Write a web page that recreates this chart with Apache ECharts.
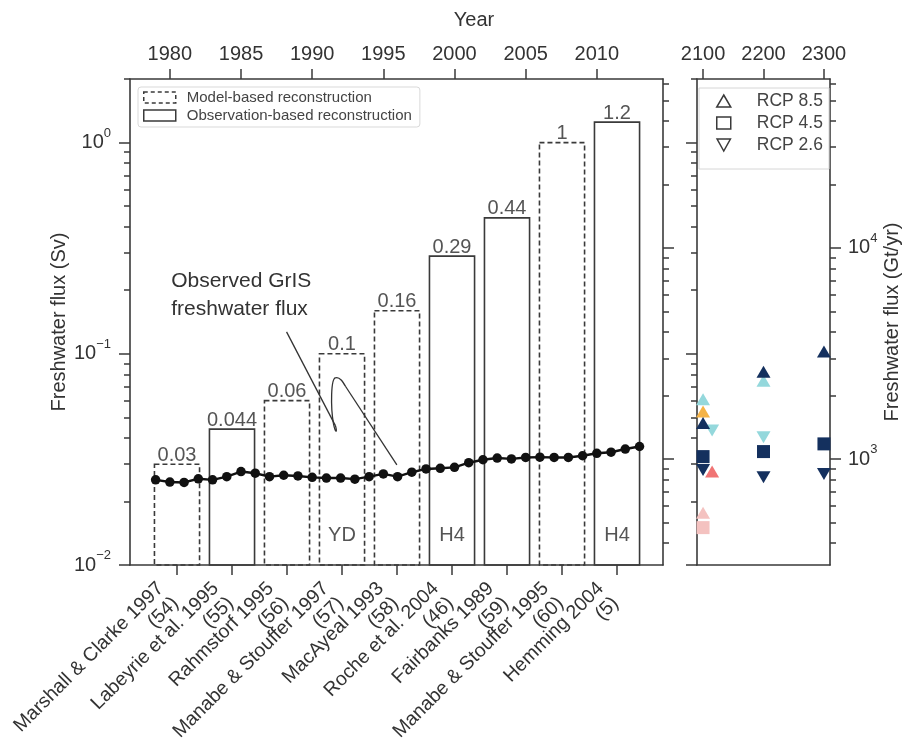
<!DOCTYPE html>
<html><head><meta charset="utf-8">
<script src="https://cdn.jsdelivr.net/npm/echarts@6/dist/echarts.min.js"></script>
<style>html,body{margin:0;padding:0;background:#fff}#c{width:907px;height:745px}</style>
</head><body><div id="c"></div>
<script>
// ---------------- data ----------------
const categories = ['Marshall & Clarke 1997\n(54)', 'Labeyrie et al. 1995\n(55)', 'Rahmstorf 1995\n(56)',
  'Manabe & Stouffer 1997\n(57)', 'MacAyeal 1993\n(58)', 'Roche et al. 2004\n(46)', 'Fairbanks 1989\n(59)',
  'Manabe & Stouffer 1995\n(60)', 'Hemming 2004\n(5)'];
const barValues = [0.03, 0.044, 0.06, 0.1, 0.16, 0.29, 0.44, 1, 1.25];
const barLabels = ['0.03', '0.044', '0.06', '0.1', '0.16', '0.29', '0.44', '1', '1.2'];
const barKinds = ['model', 'obs', 'model', 'model', 'model', 'obs', 'obs', 'model', 'obs'];
const eventTags = ['', '', '', 'YD', '', 'H4', '', '', 'H4'];

const obsYears = [1979, 1980, 1981, 1982, 1983, 1984, 1985, 1986, 1987, 1988, 1989, 1990, 1991, 1992, 1993, 1994,
  1995, 1996, 1997, 1998, 1999, 2000, 2001, 2002, 2003, 2004, 2005, 2006, 2007, 2008, 2009, 2010, 2011, 2012, 2013];
const obsFlux = [0.0253, 0.0247, 0.0246, 0.0256, 0.0253, 0.0262, 0.0277, 0.0272, 0.0262, 0.0266, 0.0264, 0.0260,
  0.0258, 0.0258, 0.0255, 0.0262, 0.0270, 0.0262, 0.0275, 0.0285, 0.0287, 0.0290, 0.0305, 0.0315, 0.0321, 0.0318,
  0.0323, 0.0324, 0.0323, 0.0323, 0.0329, 0.0338, 0.0342, 0.0354, 0.0364];

// projections (Gt/yr)
const rcp85Navy = [[2100, 1481], [2200, 2591], [2300, 3234]];
const rcp85Cyan = [[2100, 1923], [2200, 2349]];
const rcp85Orange = [[2100, 1680]];
const rcp85Red = [[2115, 873]];
const rcp85Pink = [[2100, 558]];
const rcp45Navy = [[2100, 1028], [2200, 1086], [2300, 1181]];
const rcp45Pink = [[2100, 474]];
const rcp26Navy = [[2100, 889], [2200, 821], [2300, 851]];
const rcp26Cyan = [[2115, 1366], [2200, 1271]];

// ticks
const yearTicks = [1980, 1985, 1990, 1995, 2000, 2005, 2010];
const futureYearTicks = [2100, 2200, 2300];
const svMajorTicks = [0.01, 0.1, 1];
const svMinorTicks = [0.02, 0.03, 0.04, 0.05, 0.06, 0.07, 0.08, 0.09, 0.2, 0.3, 0.4, 0.5, 0.6, 0.7, 0.8, 0.9, 2];
const gtMajorTicks = [1000, 10000];
const gtMinorTicks = [400, 500, 600, 700, 800, 900, 2000, 3000, 4000, 5000, 6000, 7000, 8000, 9000,
  20000, 30000, 40000, 50000, 60000];

// ---------------- settings ----------------
const SV_MIN = 0.01, SV_MAX = 2, GT_PER_SV = 31536;
const GT_MIN = SV_MIN * GT_PER_SV, GT_MAX = SV_MAX * GT_PER_SV;
const FONT = "'Liberation Sans', Arial, Helvetica, sans-serif";
const AX = '#3a3a3a';
const TXT = '#333';
const BAR_HALF = 0.41;
const CAT_DX = -9, CAT_DY = 28;
const lg = Math.log10;
const categoryIdx = categories.map((_, i) => i);

const NAVY = '#14305e', CYAN = '#94d8dc', ORANGE = '#f5b346', RED = '#f07474', PINK = '#f4c2c0';

function powLabel(v) {
  const e = Math.round(v);
  const s = e < 0 ? '\u2212' + (-e) : String(e);
  return '{b|10}{s|' + s + '}';
}
const richPow = {
  b: { fontSize: 20, fontFamily: FONT, color: TXT, lineHeight: 32 },
  s: { fontSize: 13, fontFamily: FONT, color: TXT, verticalAlign: 'top', lineHeight: 15 }
};
const lineStyle = { show: true, onZero: false, lineStyle: { color: AX, width: 1.6 } };
const noLine = { show: false, onZero: false };

function logTickAxis(gridIndex, position, min, max, ticks, len, opts) {
  const t = ticks.map(lg);
  return Object.assign({
    gridIndex, type: 'value', position, min: lg(min), max: lg(max),
    axisLine: noLine,
    axisTick: { show: true, length: len, lineStyle: { color: AX, width: 1.5 }, customValues: t },
    axisLabel: { show: false, customValues: t },
    splitLine: { show: false }, minorTick: { show: false }
  }, opts || {});
}

function barRenderer(dashed) {
  return function (params, api) {
    const i = api.value(0), v = api.value(1);
    const top = api.coord([i, v]);
    const base = api.coord([i, SV_MIN]);
    const l = api.coord([i - BAR_HALF, v])[0];
    const r = api.coord([i + BAR_HALF, v])[0];
    const children = [
      { type: 'rect', shape: { x: l, y: top[1], width: r - l, height: base[1] - top[1] },
        style: { fill: 'none', stroke: AX, lineWidth: 1.6, lineDash: dashed ? [5, 3] : 'solid' } },
      { type: 'text', style: { text: barLabels[i], x: top[0], y: top[1] + 1, align: 'center', verticalAlign: 'bottom',
        fontSize: 20, fontFamily: FONT, fill: '#555' } },
      { type: 'text', x: base[0] + CAT_DX, y: base[1] + CAT_DY, rotation: Math.PI / 4,
        style: { text: categories[i], align: 'right', verticalAlign: 'middle', fontSize: 19.5, lineHeight: 21,
          fontFamily: FONT, fill: TXT } }
    ];
    if (eventTags[i]) {
      children.push({ type: 'text', style: { text: eventTags[i], x: top[0], y: base[1] - 30, align: 'center',
        verticalAlign: 'middle', fontSize: 20, fontFamily: FONT, fill: '#555' } });
    }
    return { type: 'group', children };
  };
}

function scatter(name, data, symbol, size, color, rotate) {
  return { type: 'scatter', name, xAxisIndex: 2, yAxisIndex: 5, data, symbol, symbolSize: size,
    symbolRotate: rotate || 0, itemStyle: { color, opacity: 1 }, z: 5, silent: true };
}

const modelData = [], obsData = [];
barValues.forEach((v, i) => (barKinds[i] === 'model' ? modelData : obsData).push([i, v]));

const chart = echarts.init(document.getElementById('c'), null, { renderer: 'canvas' });
const option = {
  animation: false,
  backgroundColor: '#fff',
  textStyle: { fontFamily: FONT },
  grid: [
    { left: 130, top: 79, width: 533, height: 486, containLabel: false, outerBoundsMode: 'none' },
    { left: 697, top: 79, width: 133, height: 486, containLabel: false, outerBoundsMode: 'none' }
  ],
  xAxis: [
    { gridIndex: 0, type: 'value', position: 'bottom', min: -0.8545, max: 8.836,
      axisLine: lineStyle,
      axisTick: { show: true, length: 10, lineStyle: { color: AX, width: 1.5 }, customValues: categoryIdx },
      axisLabel: { show: false, customValues: categoryIdx },
      splitLine: { show: false } },
    { gridIndex: 0, type: 'value', position: 'top', min: 1977.2, max: 2014.65,
      axisLine: lineStyle,
      axisTick: { show: true, length: 10, lineStyle: { color: AX, width: 1.5 }, customValues: yearTicks },
      axisLabel: { show: true, customValues: yearTicks, margin: 15, fontSize: 20, color: TXT, fontFamily: FONT,
        formatter: v => String(v), showMinLabel: true, showMaxLabel: true },
      splitLine: { show: false } },
    { gridIndex: 1, type: 'value', position: 'top', min: 2090, max: 2310,
      axisLine: lineStyle,
      axisTick: { show: true, length: 10, lineStyle: { color: AX, width: 1.5 }, customValues: futureYearTicks },
      axisLabel: { show: true, customValues: futureYearTicks, margin: 15, fontSize: 20, color: TXT, fontFamily: FONT,
        formatter: v => String(v), showMinLabel: true, showMaxLabel: true },
      splitLine: { show: false } },
    { gridIndex: 1, type: 'value', position: 'bottom', min: 2090, max: 2310,
      axisLine: lineStyle, axisTick: { show: false }, axisLabel: { show: false }, splitLine: { show: false } }
  ],
  yAxis: [
    { gridIndex: 0, type: 'log', logBase: 10, min: SV_MIN, max: SV_MAX, show: false },
    logTickAxis(0, 'left', SV_MIN, SV_MAX, svMajorTicks, 11, {
      axisLine: lineStyle,
      axisLabel: { show: true, customValues: svMajorTicks.map(lg), margin: 19, formatter: powLabel, rich: richPow,
        showMinLabel: true, showMaxLabel: true },
      name: 'Freshwater flux (Sv)', nameLocation: 'middle', nameRotate: 90, nameGap: 61, nameMoveOverlap: false,
      nameTextStyle: { fontSize: 20, color: TXT, fontFamily: FONT } }),
    logTickAxis(0, 'left', SV_MIN, SV_MAX, svMinorTicks, 6),
    logTickAxis(0, 'right', GT_MIN, GT_MAX, gtMajorTicks, 11, { axisLine: lineStyle }),
    logTickAxis(0, 'right', GT_MIN, GT_MAX, gtMinorTicks, 6),
    { gridIndex: 1, type: 'log', logBase: 10, min: GT_MIN, max: GT_MAX, show: false },
    logTickAxis(1, 'left', SV_MIN, SV_MAX, svMajorTicks, 11, { axisLine: lineStyle }),
    logTickAxis(1, 'left', SV_MIN, SV_MAX, svMinorTicks, 6),
    logTickAxis(1, 'right', GT_MIN, GT_MAX, gtMajorTicks, 11, {
      axisLine: lineStyle,
      axisLabel: { show: true, customValues: gtMajorTicks.map(lg), margin: 18, formatter: powLabel, rich: richPow,
        showMinLabel: true, showMaxLabel: true },
      name: 'Freshwater flux (Gt/yr)', nameLocation: 'middle', nameRotate: 90, nameGap: 52, nameMoveOverlap: false,
      nameTextStyle: { fontSize: 20, color: TXT, fontFamily: FONT } }),
    logTickAxis(1, 'right', GT_MIN, GT_MAX, gtMinorTicks, 6)
  ],
  legend: [
    { left: 138, top: 87, orient: 'vertical', padding: [3, 8, 4, 5], itemWidth: 32, itemHeight: 11, itemGap: 3,
      borderColor: '#d9d9d9', borderWidth: 1, borderRadius: 3, selectedMode: false,
      textStyle: { fontSize: 15, color: '#444', fontFamily: FONT, padding: [0, 0, 0, 6] },
      data: [
        { name: 'Model-based reconstruction', icon: 'rect',
          itemStyle: { color: 'rgba(0,0,0,0)', borderColor: AX, borderWidth: 1.5, borderType: [4, 3] } },
        { name: 'Observation-based reconstruction', icon: 'rect',
          itemStyle: { color: 'rgba(0,0,0,0)', borderColor: AX, borderWidth: 1.5, borderType: 'solid' } }
      ] },
    { left: 716, top: 92, orient: 'vertical', padding: 0, itemWidth: 14, itemHeight: 12, itemGap: 4, selectedMode: false,
      textStyle: { fontSize: 17.5, color: '#444', fontFamily: FONT, padding: [0, 0, 0, 21] },
      data: [
        { name: 'RCP 8.5', icon: 'triangle', itemStyle: { color: '#fff', borderColor: AX, borderWidth: 1.5 } },
        { name: 'RCP 4.5', icon: 'rect', itemStyle: { color: '#fff', borderColor: AX, borderWidth: 1.5 } },
        { name: 'RCP 2.6', icon: 'path://M0,0L10,0L5,9Z', itemStyle: { color: '#fff', borderColor: AX, borderWidth: 1.5 } }
      ] }
  ],
  graphic: [
    { id: 'yearTitle', type: 'text', x: 474, y: 20, style: { text: 'Year', fontSize: 20, fontFamily: FONT, fill: TXT,
      align: 'center', verticalAlign: 'middle' } },
    { id: 'rcpBox', type: 'rect', shape: { x: 699, y: 88, width: 130, height: 81 },
      style: { fill: 'none', stroke: '#d6d6d6', lineWidth: 1 }, z: 10 }
  ],
  series: [
    { type: 'custom', name: 'Model-based reconstruction', xAxisIndex: 0, yAxisIndex: 0, data: modelData,
      renderItem: barRenderer(true), encode: { x: 0, y: 1 }, clip: false, z: 2, silent: true,
      itemStyle: { color: 'rgba(0,0,0,0)' } },
    { type: 'custom', name: 'Observation-based reconstruction', xAxisIndex: 0, yAxisIndex: 0, data: obsData,
      renderItem: barRenderer(false), encode: { x: 0, y: 1 }, clip: false, z: 2, silent: true,
      itemStyle: { color: 'rgba(0,0,0,0)' } },
    { type: 'line', name: 'Observed GrIS freshwater flux', xAxisIndex: 1, yAxisIndex: 0,
      data: obsYears.map((y, i) => [y, obsFlux[i]]), symbol: 'circle', symbolSize: 9.5, showSymbol: true,
      itemStyle: { color: '#111' }, lineStyle: { color: '#111', width: 2.4 }, z: 4, silent: true },
    scatter('rcp85 cyan', rcp85Cyan, 'triangle', [14, 12], CYAN),
    scatter('rcp85 orange', rcp85Orange, 'triangle', [14, 12], ORANGE),
    scatter('rcp85 red', rcp85Red, 'triangle', [14, 12], RED),
    scatter('rcp85 pink', rcp85Pink, 'triangle', [14, 12], PINK),
    scatter('rcp45 pink', rcp45Pink, 'rect', [13, 13], PINK),
    scatter('rcp26 cyan', rcp26Cyan, 'triangle', [14, 12], CYAN, 180),
    scatter('RCP 8.5', rcp85Navy, 'triangle', [14, 12], NAVY),
    scatter('RCP 4.5', rcp45Navy, 'rect', [13, 13], NAVY),
    scatter('RCP 2.6', rcp26Navy, 'triangle', [14, 12], NAVY, 180)
  ]
};
chart.setOption(option);

// annotation, placed in data coordinates (year, Sv)
const annoTextAt = [1980.1, 0.19];
const annoStart = [1988.2, 0.127];
const annoLoopBottom = [1991.85, 0.0427];
const annoLoopTop = [1991.8, 0.077];
const annoEnd = [1995.95, 0.0298];
const toPx = p => chart.convertToPixel({ xAxisIndex: 1, yAxisIndex: 0 }, p);
const P = toPx(annoTextAt), A = toPx(annoStart), B = toPx(annoLoopBottom), T = toPx(annoLoopTop), E = toPx(annoEnd);
const st = { fill: 'none', stroke: '#333', lineWidth: 1.3 };
chart.setOption({
  graphic: [
    { id: 'annoText', type: 'text', x: P[0], y: P[1], z: 10,
      style: { text: 'Observed GrIS\nfreshwater flux', fontSize: 21, lineHeight: 28, fontFamily: FONT, fill: '#333',
        align: 'left', verticalAlign: 'middle' } },
    { id: 'annoL1', type: 'line', z: 10, shape: { x1: A[0], y1: A[1], x2: B[0] - 3, y2: B[1] - 6 }, style: st },
    { id: 'annoC1', type: 'bezierCurve', z: 10, shape: { x1: B[0] - 3, y1: B[1] - 6, cpx1: B[0] - 1, cpy1: B[1] + 1,
      cpx2: B[0] - 3, cpy2: B[1] + 2, x2: B[0] - 5, y2: B[1] - 8 }, style: st },
    { id: 'annoC2', type: 'bezierCurve', z: 10, shape: { x1: B[0] - 5, y1: B[1] - 8, cpx1: B[0] - 8, cpy1: B[1] - 25,
      cpx2: T[0] - 7, cpy2: T[1], x2: T[0] - 2, y2: T[1] }, style: st },
    { id: 'annoC3', type: 'bezierCurve', z: 10, shape: { x1: T[0] - 2, y1: T[1], cpx1: T[0] + 2, cpy1: T[1] - 1,
      cpx2: T[0] + 5, cpy2: T[1] + 4, x2: T[0] + 8, y2: T[1] + 9 }, style: st },
    { id: 'annoL2', type: 'line', z: 10, shape: { x1: T[0] + 8, y1: T[1] + 9, x2: E[0], y2: E[1] }, style: st }
  ]
});
</script>
</body></html>
